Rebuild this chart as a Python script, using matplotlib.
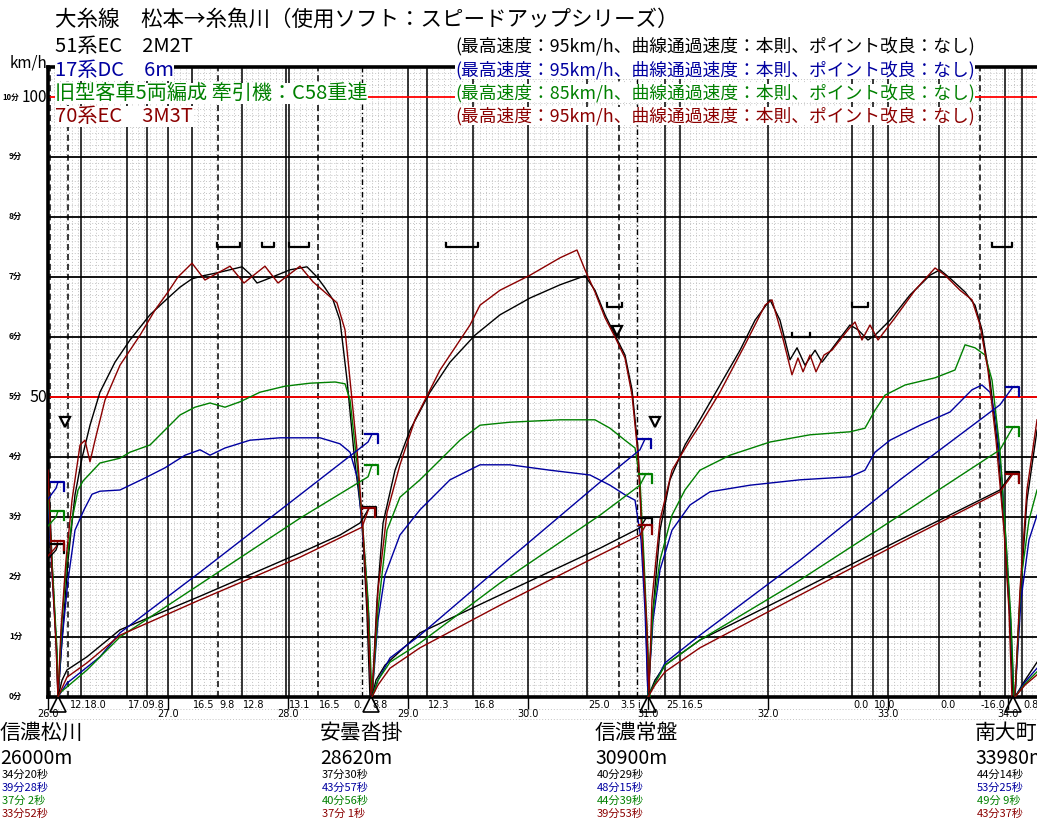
import numpy as np
import matplotlib
matplotlib.use('Agg')
import matplotlib.pyplot as plt
from matplotlib import transforms

plt.rcParams['font.family'] = ['Noto Sans CJK JP', 'DejaVu Sans']

W, H = 1037, 826

# ---------------- data ----------------
title = '大糸線　松本→糸魚川（使用ソフト：スピードアップシリーズ）'
train_names = ['51系EC　2M2T', '17系DC　6m', '旧型客車5両編成 牽引機：C58重連', '70系EC　3M3T']
train_specs = ['(最高速度：95km/h、曲線通過速度：本則、ポイント改良：なし)',
               '(最高速度：95km/h、曲線通過速度：本則、ポイント改良：なし)',
               '(最高速度：85km/h、曲線通過速度：本則、ポイント改良：なし)',
               '(最高速度：95km/h、曲線通過速度：本則、ポイント改良：なし)']
train_colors = ['#000000', '#0000a0', '#008000', '#8b0000']

stations = ['信濃松川', '安曇沓掛', '信濃常盤', '南大町']
station_m = [26000, 28620, 30900, 33980]
station_stop_km = [26.083, 28.692, 31.0, 34.042]
times_black = ['34分20秒', '37分30秒', '40分29秒', '44分14秒']
times_blue = ['39分28秒', '43分57秒', '48分15秒', '53分25秒']
times_green = ['37分 2秒', '40分56秒', '44分39秒', '49分 9秒']
times_red = ['33分52秒', '37分 1秒', '39分53秒', '43分37秒']

# speed curves (km, km/h), one list of segments per train
black_speed = [
    ([26.0, 26.033, 26.067, 26.083], [40, 22.8, 9.5, 0]),
    ([26.083, 26.117, 26.167, 26.225, 26.283, 26.35, 26.433, 26.558, 26.683, 26.85, 27.0, 27.1, 27.2,
      27.292, 27.433, 27.617, 27.683, 27.742, 27.808, 28.017, 28.158, 28.242, 28.308, 28.375, 28.433,
      28.492, 28.558, 28.617, 28.658, 28.683],
     [0, 9.5, 22.8, 33.7, 39.8, 45.3, 50.8, 55.8, 59.5, 63.7, 66.5, 68.3, 69.7,
      70.2, 70.8, 71.7, 70.5, 69.0, 69.5, 71.2, 71.7, 70.0, 68.2, 66.2, 62.8,
      52.8, 39.0, 29.5, 14.0, 0]),
    ([28.7, 28.742, 28.792, 28.892, 29.017, 29.183, 29.35, 29.558, 29.767, 30.017, 30.267, 30.475,
      30.558, 30.642, 30.725, 30.808, 30.867, 30.917, 30.958, 30.983, 31.0],
     [0, 16.2, 29.0, 37.8, 44.5, 50.8, 55.8, 60.3, 63.7, 66.5, 68.7, 70.2,
      67.8, 63.7, 60.3, 57.0, 51.2, 41.2, 24.5, 12.8, 0]),
    ([31.0, 31.042, 31.1, 31.183, 31.308, 31.433, 31.6, 31.767, 31.892, 32.017, 32.1, 32.183, 32.242,
      32.308, 32.392, 32.45, 32.558, 32.683, 32.75, 32.833, 32.892, 33.017, 33.183, 33.35, 33.433,
      33.517, 33.642, 33.725, 33.783, 33.85, 33.917, 33.975, 34.017, 34.042],
     [0, 14.5, 27.8, 36.2, 42.0, 46.2, 52.0, 57.8, 62.8, 66.2, 62.8, 56.2, 58.2,
      55.3, 57.8, 55.8, 58.7, 62.0, 61.2, 59.5, 60.3, 62.8, 67.0, 70.3, 71.2,
      69.8, 67.5, 65.3, 61.2, 52.8, 41.2, 26.2, 12.8, 0]),
    ([34.058, 34.1, 34.158, 34.242], [0, 16.2, 32.8, 44.5]),
]
blue_speed = [
    ([26.0, 26.042, 26.075, 26.083], [32.8, 17.8, 7.0, 0]),
    ([26.083, 26.117, 26.167, 26.225, 26.3, 26.367, 26.433, 26.6, 26.808, 26.975, 27.142, 27.267,
      27.35, 27.475, 27.683, 27.933, 28.267, 28.433, 28.517, 28.583, 28.642, 28.675, 28.692],
     [0, 9.5, 19.5, 27.8, 31.2, 33.8, 34.3, 34.5, 36.5, 38.2, 40.3, 41.2,
      40.3, 41.5, 42.8, 43.2, 43.2, 42.2, 40.8, 36.2, 22.8, 12.8, 0]),
    ([28.7, 28.75, 28.808, 28.933, 29.1, 29.35, 29.6, 29.85, 30.183, 30.517, 30.683, 30.808,
      30.892, 30.942, 30.975, 31.0],
     [0, 12.8, 20.3, 27.0, 31.2, 36.2, 38.7, 38.7, 37.8, 37.0, 35.3, 33.7,
      32.8, 26.2, 14.5, 0]),
    ([31.0, 31.042, 31.1, 31.2, 31.35, 31.517, 31.85, 32.267, 32.683, 32.808, 32.892, 33.017,
      33.267, 33.517, 33.7, 33.783, 33.85, 33.9, 33.95, 33.992, 34.025, 34.05],
     [0, 12.8, 21.2, 27.8, 32.0, 34.2, 35.3, 36.2, 36.7, 37.8, 40.8, 42.8,
      45.3, 47.5, 51.2, 52.0, 50.8, 46.2, 36.2, 22.8, 11.2, 0]),
    ([34.058, 34.108, 34.175, 34.242], [0, 16.2, 26.2, 30.3]),
]
green_speed = [
    ([26.0, 26.042, 26.075, 26.083], [34.5, 19.5, 7.8, 0]),
    ([26.083, 26.117, 26.158, 26.2, 26.25, 26.292, 26.433, 26.6, 26.683, 26.85, 26.975, 27.1,
      27.225, 27.35, 27.475, 27.6, 27.767, 27.975, 28.183, 28.392, 28.475, 28.517, 28.575, 28.625,
      28.667, 28.7],
     [0, 12.8, 22.8, 29.5, 34.5, 36.0, 39.0, 39.8, 40.8, 42.0, 44.5, 47.0,
      48.3, 49.0, 48.3, 49.2, 50.8, 51.8, 52.3, 52.5, 52.2, 49.5, 39.0, 27.8,
      16.2, 0]),
    ([28.7, 28.75, 28.825, 28.933, 29.1, 29.267, 29.433, 29.6, 29.85, 30.267, 30.558, 30.683,
      30.808, 30.892, 30.933, 30.967, 30.992, 31.017],
     [0, 14.5, 27.8, 33.3, 36.2, 39.5, 42.8, 45.3, 45.8, 46.2, 46.2, 44.8,
      42.8, 41.5, 36.2, 22.8, 11.2, 0]),
    ([31.0, 31.042, 31.1, 31.2, 31.308, 31.433, 31.683, 32.017, 32.35, 32.683, 32.808, 32.892,
      32.975, 33.142, 33.392, 33.558, 33.642, 33.725, 33.808, 33.867, 33.933, 33.983, 34.025, 34.05],
     [0, 14.5, 22.8, 30.3, 34.5, 37.8, 40.3, 42.5, 43.7, 44.2, 44.8, 47.8,
      50.3, 52.0, 53.2, 54.5, 58.7, 58.2, 57.0, 52.8, 41.2, 26.2, 12.8, 0]),
    ([34.058, 34.108, 34.175, 34.242], [0, 19.5, 29.5, 34.5]),
]
red_speed = [
    ([26.0, 26.033, 26.067, 26.083], [37.8, 21.2, 8.7, 0]),
    ([26.083, 26.108, 26.15, 26.2, 26.267, 26.308, 26.35, 26.392, 26.475, 26.6, 26.767, 26.892,
      27.0, 27.083, 27.2, 27.308, 27.517, 27.633, 27.808, 27.917, 28.1, 28.208, 28.408, 28.475,
      28.517, 28.575, 28.625, 28.667, 28.692],
     [0, 11.2, 22.8, 32.8, 42.0, 42.8, 39.2, 42.8, 49.5, 55.3, 60.3, 64.5,
      67.5, 70.0, 72.3, 69.5, 71.8, 69.0, 71.8, 69.0, 71.8, 69.2, 65.7, 61.2,
      52.8, 41.2, 27.8, 12.8, 0]),
    ([28.7, 28.75, 28.825, 28.933, 29.058, 29.267, 29.517, 29.6, 29.767, 30.017, 30.267, 30.408,
      30.475, 30.558, 30.642, 30.725, 30.808, 30.867, 30.917, 30.958, 30.992, 31.008],
     [0, 17.8, 30.7, 38.7, 46.2, 54.5, 62.0, 65.3, 67.8, 70.3, 73.2, 74.5,
      71.2, 67.5, 63.2, 60.0, 56.5, 50.3, 40.3, 23.7, 11.2, 0]),
    ([31.008, 31.033, 31.1, 31.2, 31.35, 31.433, 31.6, 31.808, 31.975, 32.033, 32.117, 32.2,
      32.25, 32.292, 32.35, 32.4, 32.467, 32.533, 32.667, 32.725, 32.783, 32.85, 32.917, 33.058,
      33.225, 33.392, 33.475, 33.6, 33.7, 33.767, 33.833, 33.9, 33.967, 34.008, 34.033],
     [0, 16.2, 29.5, 37.8, 42.8, 45.3, 50.8, 58.7, 65.3, 66.2, 60.3, 53.7,
      56.5, 54.2, 57.0, 54.2, 57.0, 57.8, 61.2, 62.5, 59.5, 62.0, 59.5, 63.2,
      67.8, 71.5, 70.3, 67.8, 66.2, 62.0, 54.5, 42.8, 27.8, 14.5, 0]),
    ([34.058, 34.1, 34.158, 34.242], [0, 17.8, 34.5, 46.2]),
]

# running-time curves (km, minutes)
black_time = [
    ([26.0, 26.067, 26.083], [2.3, 2.45, 2.55]),
    ([26.083, 26.117, 26.158, 26.325, 26.6, 27.267, 28.1, 28.433, 28.6, 28.683], [0, 0.28, 0.45, 0.67, 1.12, 1.68, 2.4, 2.7, 2.9, 3.17]),
    ([28.7, 28.733, 28.808, 29.1, 29.767, 30.6, 30.933, 30.983], [0, 0.28, 0.53, 1.07, 1.7, 2.48, 2.82, 2.98]),
    ([31.0, 31.058, 31.142, 31.433, 32.267, 33.1, 33.933, 34.042], [0, 0.28, 0.53, 0.95, 1.78, 2.62, 3.45, 3.75]),
    ([34.058, 34.142, 34.242], [0, 0.28, 0.58]),
]
blue_time = [
    ([26.0, 26.067, 26.083], [3.3, 3.48, 3.58]),
    ([26.083, 26.158, 26.433, 26.6, 27.267, 28.1, 28.667, 28.7], [0, 0.23, 0.67, 1.07, 2.08, 3.37, 4.25, 4.38]),
    ([28.7, 28.75, 28.85, 29.1, 29.767, 30.6, 30.933, 30.975], [0, 0.28, 0.65, 1.03, 2.17, 3.58, 4.12, 4.3]),
    ([31.0, 31.058, 31.142, 31.433, 32.267, 33.1, 33.933, 34.042], [0, 0.23, 0.57, 1.03, 2.28, 3.62, 4.87, 5.17]),
    ([34.058, 34.142, 34.242], [0, 0.25, 0.48]),
]
green_time = [
    ([26.0, 26.067, 26.083], [2.85, 3.0, 3.1]),
    ([26.083, 26.1, 26.325, 26.6, 27.267, 28.1, 28.667, 28.7], [0, 0.07, 0.45, 1.0, 1.88, 2.98, 3.67, 3.87]),
    ([28.7, 28.75, 28.85, 29.1, 29.767, 30.6, 30.933, 30.983], [0, 0.28, 0.58, 0.9, 1.9, 3.03, 3.53, 3.72]),
    ([31.0, 31.058, 31.142, 31.433, 32.267, 33.1, 33.933, 34.042], [0, 0.23, 0.53, 0.95, 1.95, 3.03, 4.12, 4.5]),
    ([34.058, 34.142, 34.242], [0, 0.22, 0.42]),
]
red_time = [
    ([26.0, 26.067, 26.083], [2.35, 2.5, 2.6]),
    ([26.083, 26.158, 26.325, 26.6, 27.267, 28.1, 28.617, 28.675], [0, 0.33, 0.57, 1.03, 1.62, 2.33, 2.83, 3.15]),
    ([28.7, 28.75, 28.85, 29.1, 29.767, 30.6, 30.933, 30.983], [0, 0.2, 0.48, 0.82, 1.53, 2.37, 2.7, 2.87]),
    ([31.0, 31.058, 31.142, 31.433, 32.267, 33.1, 33.933, 34.042], [0, 0.2, 0.42, 0.82, 1.7, 2.57, 3.42, 3.72]),
    ([34.058, 34.142, 34.242], [0, 0.2, 0.37]),
]

# track features
solid_lines_km = [26.275, 26.658, 26.825, 27.0, 27.2, 27.617, 27.983, 28.008, 29.0, 29.158, 29.542,
                  30.0, 30.492, 31.142, 31.267, 32.0, 32.7, 32.875, 33.0, 33.425, 33.975, 34.117]
dashed_lines_km = [26.017, 26.167, 27.417, 28.25, 30.758, 33.767]
dashdot_lines_km = [28.617, 30.908]
grade_labels = ['12.18.0', '17.09.8', '16.5', '9.8', '12.8', '13.1', '16.5', '0.', '8.8', '12.3', '16.8',
                '25.0', '3.5', 'i', '25.16.5', '0.0', '10.0', '0.0', '-16.0', '0.8']
grade_label_km = [26.183, 26.667, 27.208, 27.425, 27.625, 28.008, 28.258, 28.542, 28.7, 29.167, 29.55,
                  30.5, 30.767, 30.908, 31.15, 32.708, 32.883, 33.433, 33.775, 34.125]
km_ticks = [26.0, 27.0, 28.0, 29.0, 30.0, 31.0, 32.0, 33.0, 34.0]
limit_start_km = [27.408, 27.783, 28.008, 29.317, 30.658, 32.2, 32.7, 33.867]
limit_end_km = [27.6, 27.883, 28.175, 29.583, 30.783, 32.35, 32.833, 34.033]
limit_kmh = [75, 75, 75, 75, 65, 60, 65, 75]
signal_km = [26.142, 30.742, 31.058]
signal_kmh = [45.8, 61.0, 45.8]

# ---------------- figure ----------------
KM0, KM1 = 26.0, 26.0 + 989 / 120
fig = plt.figure(figsize=(W / 100, H / 100), dpi=100)
ax = fig.add_axes([48 / W, 129 / H, 989 / W, 630 / H])
ax.set_xlim(KM0, KM1)
ax.set_ylim(0, 105)
ax.set_xticks([]); ax.set_yticks([])
for s in ['left', 'bottom', 'top']:
    ax.spines[s].set_linewidth(2.6)
ax.spines['right'].set_visible(False)

GRID_C = '#c4c4c4'
GRID_LS = (0, (1.0, 2.0))
# fine dotted grid
for v in range(1, 105):
    if v % 10:
        ax.axhline(v, color=GRID_C, lw=0.7, ls=GRID_LS, zorder=0.5)
for x in np.arange(KM0 + 0.05, KM1, 0.05):
    ax.axvline(x, color=GRID_C, lw=0.7, ls=GRID_LS, zorder=0.5)
# minute lines
for v in range(10, 100, 10):
    ax.axhline(v, color='black', lw=1.3, zorder=1)
ax.axhline(50, color='#ff0000', lw=1.3, zorder=1.1)
ax.axhline(100, color='#ff0000', lw=1.3, zorder=1.1)
for x in solid_lines_km:
    ax.axvline(x, color='black', lw=1.1, zorder=1)
for x in dashed_lines_km:
    ax.axvline(x, color='black', lw=1.1, ls=(0, (4, 2.5)), zorder=1)
for x in dashdot_lines_km:
    ax.axvline(x, color='black', lw=1.0, ls=(0, (4, 2, 1, 2)), zorder=1)

# speed curves
for segs, c in zip([black_speed, blue_speed, green_speed, red_speed], train_colors):
    for xs, vs in segs:
        ax.plot(xs, vs, color=c, lw=1.0, zorder=3)

# time curves on a twin axis (minutes)
ax2 = ax.twinx()
ax2.set_ylim(0, 10.5)
ax2.axis('off')
for segs, c in zip([black_time, blue_time, green_time, red_time], train_colors):
    for i, (xs, ts) in enumerate(segs):
        ax2.plot(xs, ts, color=c, lw=1.0, zorder=3)
        if i < len(segs) - 1:
            xe, te = xs[-1], ts[-1]
            ax2.plot([xe - 0.06, xe + 0.05, xe + 0.05], [te, te, te - 0.15], color=c, lw=1.6, zorder=4)

# speed-limit brackets
for a, b, v in zip(limit_start_km, limit_end_km, limit_kmh):
    ax.plot([a, a, b, b], [v + 0.7, v, v, v + 0.7], color='black', lw=1.6, zorder=4)
# signal marks
ax.plot(signal_km, signal_kmh, ls='none', marker='v', ms=7, mfc='white', mec='black', mew=1.6, zorder=5)

# below-axis labels
bt = transforms.blended_transform_factory(ax.transData, fig.transFigure)
for s, x in zip(grade_labels, grade_label_km):
    ax.text(x, 1 - 705 / H, s, transform=bt, fontsize=7, ha='left', va='center', family='DejaVu Sans')
for k in km_ticks:
    ax.text(k, 1 - 714 / H, f'{k:.1f}', transform=bt, fontsize=7, ha='center', va='center', family='DejaVu Sans')
    ax.plot([k, k], [1 - 697 / H, 1 - 709 / H], transform=bt, color='black', lw=1.0, clip_on=False)
ax.plot([KM0 - 0.07, KM1], [1 - 709 / H] * 2, transform=bt, color=GRID_C, lw=0.7, ls=GRID_LS, clip_on=False)
ax.plot([KM0 - 0.07, KM1], [1 - 719 / H] * 2, transform=bt, color=GRID_C, lw=0.7, ls=GRID_LS, clip_on=False)
for k in station_stop_km:
    ax.plot([k], [1 - 704 / H], transform=bt, marker='^', ms=11, mfc='none', mec='black', mew=1.2, clip_on=False, zorder=6)

# y labels
def ftext(x, y, s, **kw):
    return fig.text(x / W, 1 - y / H, s, **kw)

for m in range(0, 11):
    y = 697 - 60 * m
    ftext(2 if m == 10 else 9, y, f'{m}分', fontsize=5.5 if m == 10 else 6, va='center', ha='left', weight='bold')
ftext(47, 97, '100', fontsize=11, va='center', ha='right')
ftext(47, 397, '50', fontsize=11.5, va='center', ha='right')
ftext(47, 63, 'km/h', fontsize=11, va='center', ha='right')

# title and legend
ftext(55, 20, title, fontsize=15.5, va='center', ha='left')
row_y = [46, 70, 93, 116]
for name, spec, c, y in zip(train_names, train_specs, train_colors, row_y):
    ftext(55, y, name, fontsize=14.5, color=c, va='center', ha='left',
          bbox=dict(facecolor='white', edgecolor='none', pad=0))
    ftext(455, y, spec, fontsize=12.8, color=c, va='center', ha='left',
          bbox=dict(facecolor='white', edgecolor='none', pad=0))

# station block
station_x = [0, 320, 595, 975]
for i, (nm, m, x) in enumerate(zip(stations, station_m, station_x)):
    ftext(x, 733, nm, fontsize=15, va='center', ha='left')
    ftext(x, 758, f'{m}m', fontsize=14, va='center', ha='left')
    for tl, c, y in zip([times_black, times_blue, times_green, times_red], train_colors, [775, 788, 801, 814]):
        ftext(x + 2, y, tl[i], fontsize=8, color=c, va='center', ha='left')

fig.savefig('out.png', dpi=100)
